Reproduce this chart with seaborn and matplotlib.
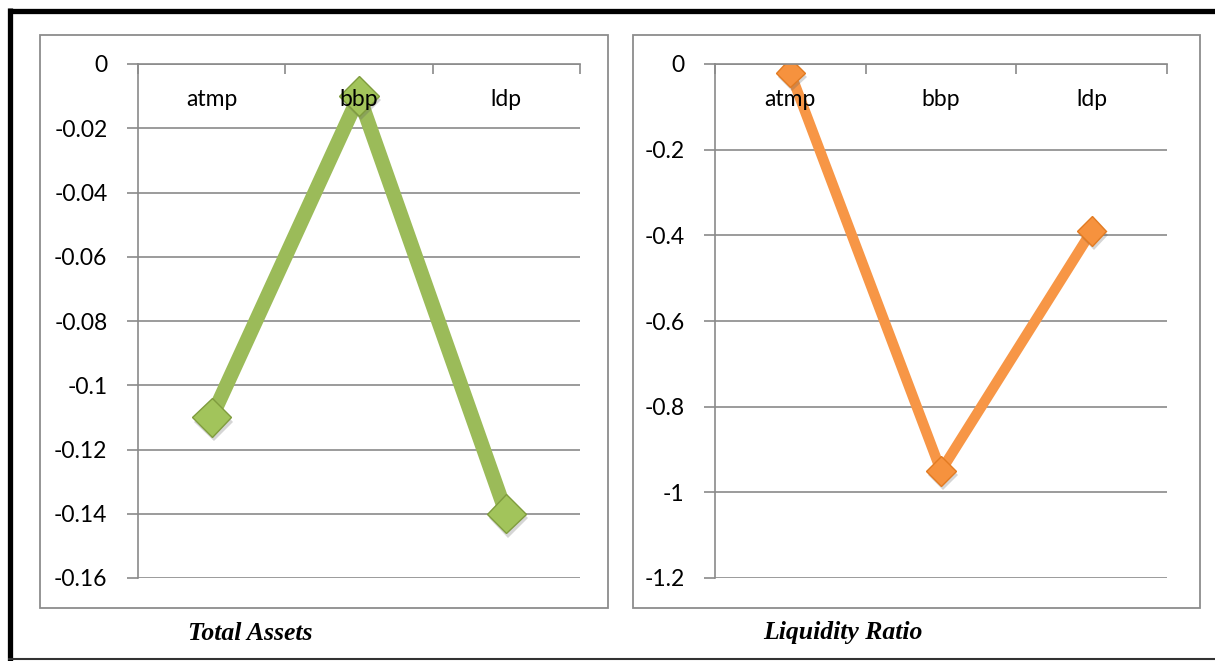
import numpy as np
import pandas as pd
import matplotlib
matplotlib.use("Agg")
import matplotlib.pyplot as plt
import matplotlib.patheffects as pe
import seaborn as sns
from matplotlib.patches import Rectangle
from matplotlib.lines import Line2D
from matplotlib.ticker import FixedLocator, FuncFormatter

# ---- data -------------------------------------------------------------
categories = ["atmp", "bbp", "ldp"]
total_assets = [-0.11, -0.01, -0.14]
liquidity_ratio = [-0.02, -0.95, -0.39]

assets_ticks = [0, -0.02, -0.04, -0.06, -0.08, -0.10, -0.12, -0.14, -0.16]
liquidity_ticks = [0, -0.2, -0.4, -0.6, -0.8, -1.0, -1.2]

panel_titles = ["Total Assets", "Liquidity Ratio"]

# ---- style ------------------------------------------------------------
sns.set_theme(style="white")
plt.rcParams["font.family"] = ["Lato", "DejaVu Sans"]

W, H = 1215, 661
fig = plt.figure(figsize=(W / 100, H / 100), dpi=100)
fig.patch.set_facecolor("white")

GRID = "#8a8a8a"
LABEL_SIZE = 16.5


def px_rect(x0, y0, x1, y1):
    """Figure-fraction rectangle from pixel box (top-left origin)."""
    return [x0 / W, 1 - y1 / H, (x1 - x0) / W, (y1 - y0) / H]


def fmt(v, _pos=None):
    return "0" if v == 0 else f"{round(v, 4):g}"


def draw_panel(rect, values, ticks, color, face, edge, lw, ms):
    ax = fig.add_axes(rect)
    df = pd.DataFrame({"cat": categories, "val": values})
    # connecting line
    sns.pointplot(data=df, x="cat", y="val", ax=ax, color=color,
                  markers="", errorbar=None, linewidth=lw)
    # diamond markers with a soft drop shadow
    sns.pointplot(data=df, x="cat", y="val", ax=ax, color=color,
                  markers="D", linestyles="none", errorbar=None,
                  markersize=ms, markerfacecolor=face,
                  markeredgecolor=edge, markeredgewidth=1.0)
    ax.lines[-1].set_path_effects([
        pe.SimplePatchShadow(offset=(1.5, -3), shadow_rgbFace="0.35",
                             alpha=0.25),
        pe.Normal()])
    ax.set_xlim(-0.5, len(categories) - 0.5)
    ax.set_ylim(min(ticks), max(ticks))

    # value axis on the left with gridlines
    ax.yaxis.set_major_locator(FixedLocator(ticks))
    ax.yaxis.set_major_formatter(FuncFormatter(fmt))
    ax.tick_params(axis="y", which="major", direction="out", length=8,
                   width=1.2, color=GRID, pad=14, labelsize=LABEL_SIZE,
                   labelcolor="black", left=True)
    ax.yaxis.grid(True, color=GRID, linewidth=1.2)
    ax.set_axisbelow(True)

    # category axis runs along y = 0 (top edge); boundary ticks point down
    ax.xaxis.set_ticks_position("top")
    ax.set_xticks(np.arange(len(categories) + 1) - 0.5)
    ax.set_xticklabels([])
    ax.tick_params(axis="x", direction="in", length=7, width=1.2,
                   color=GRID, top=True, bottom=False, labeltop=False)
    for i, c in enumerate(categories):
        ax.text(i, 0.93, c, transform=ax.get_xaxis_transform(),
                ha="center", va="center", fontsize=LABEL_SIZE,
                color="black", zorder=10)

    ax.set_xlabel("")
    ax.set_ylabel("")
    for side in ("right", "bottom"):
        ax.spines[side].set_visible(False)
    for side in ("left", "top"):
        ax.spines[side].set_color(GRID)
        ax.spines[side].set_linewidth(1.2)
    ax.set_facecolor("none")
    return ax


draw_panel(px_rect(138, 64, 580, 578), total_assets, assets_ticks,
           color="#9BBB59", face="#A2C45B", edge="#7F9C3E", lw=10.5, ms=20)
draw_panel(px_rect(715, 64, 1167, 578), liquidity_ratio, liquidity_ticks,
           color="#F79646", face="#F6923E", edge="#E27B22", lw=7.5, ms=15)

# chart-area frames
for x0, x1 in ((40, 608), (633, 1200)):
    r = px_rect(x0, 35, x1, 608)
    fig.add_artist(Rectangle((r[0], r[1]), r[2], r[3],
                             transform=fig.transFigure, fill=False,
                             edgecolor="#8c8c8c", linewidth=1.3))

# panel captions
for x, title in zip((250, 843), panel_titles):
    fig.text(x / W, 1 - 633 / H, title, ha="center", va="center",
             fontsize=18.5, fontweight="bold", fontstyle="italic",
             family="Liberation Serif", color="black")

# outer page border
fig.add_artist(Line2D([8 / W, 1], [1 - 10.5 / H, 1 - 10.5 / H],
                      transform=fig.transFigure, color="black",
                      linewidth=3.8, solid_capstyle="butt"))
fig.add_artist(Line2D([10.5 / W, 10.5 / W], [1 - 8 / H, 0],
                      transform=fig.transFigure, color="black",
                      linewidth=3.8, solid_capstyle="butt"))
fig.add_artist(Line2D([8 / W, 1], [1 - 658.5 / H, 1 - 658.5 / H],
                      transform=fig.transFigure, color="#333333",
                      linewidth=1.5, solid_capstyle="butt"))

fig.savefig("out.png", dpi=100, facecolor="white")
